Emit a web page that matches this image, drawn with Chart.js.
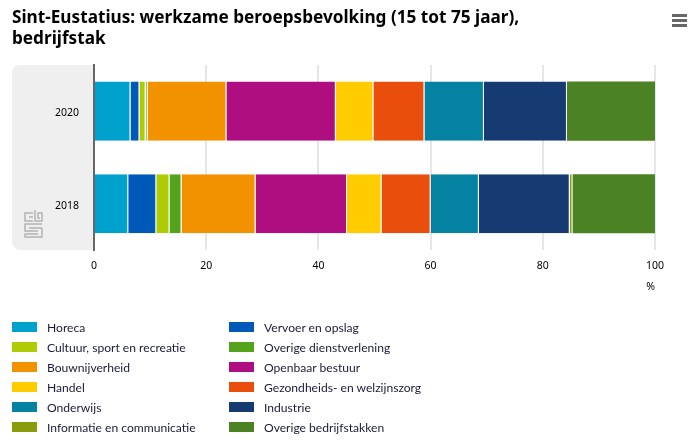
<!DOCTYPE html>
<html>
<head>
<meta charset="utf-8">
<script src="https://cdn.jsdelivr.net/npm/chart.js@4/dist/chart.umd.min.js"></script>
<style>
  html, body { margin: 0; padding: 0; background: #fff; }
  #wrap { position: relative; width: 692px; height: 445px; overflow: hidden; }
  #legend { position: absolute; left: 12px; top: 317px; display: grid;
    grid-template-columns: 217px 217px; grid-auto-rows: 20px;
    font: 12.1px Lato, sans-serif; color: #1a1a3a; }
  #legend div { display: flex; align-items: center; white-space: nowrap; }
  #legend i { display: block; width: 25px; height: 10px; margin-right: 10px; }
  #menu { position: absolute; left: 672px; top: 14px; width: 15px; }
  #menu i { display: block; height: 3px; margin-bottom: 2px; background: #666; }
</style>
</head>
<body>
<div id="wrap">
  <canvas id="chart" width="692" height="445"></canvas>
  <div id="menu"><i></i><i></i><i></i></div>
  <div id="legend"></div>
</div>
<script>
const years = ['2020', '2018'];
const sectors = ['Horeca', 'Vervoer en opslag', 'Cultuur, sport en recreatie', 'Overige dienstverlening',
  'Bouwnijverheid', 'Openbaar bestuur', 'Handel', 'Gezondheids- en welzijnszorg',
  'Onderwijs', 'Industrie', 'Informatie en communicatie', 'Overige bedrijfstakken'];
const colors = ['#00a1cd', '#0058b8', '#afcb05', '#53a31d', '#f39200', '#af0e80', '#ffcc00', '#ea4e0c',
  '#0581a2', '#163a72', '#899d0c', '#4b8224'];
const values2020 = [6.5, 1.6, 1.1, 0.35, 14.05, 19.5, 6.7, 9.1, 10.6, 14.8, 0, 15.7];
const values2018 = [6.1, 5.0, 2.35, 2.15, 13.2, 16.3, 6.15, 8.75, 8.6, 16.2, 0.5, 14.7];
const xTicks = [0, 20, 40, 60, 80, 100];

// grey panel behind the year labels and the cbs logo on it
const panelPlugin = {
  id: 'panel',
  beforeDraw(chart) {
    const { ctx, chartArea } = chart;
    ctx.save();
    ctx.fillStyle = '#efefef';
    ctx.beginPath();
    ctx.roundRect(12, chartArea.top, chartArea.left - 12, chartArea.bottom - chartArea.top, [8, 0, 0, 8]);
    ctx.fill();
    ctx.strokeStyle = '#b4b4b4';
    ctx.lineWidth = 1.5;
    ctx.beginPath();
    // c
    ctx.moveTo(33, 213); ctx.lineTo(25, 213); ctx.lineTo(25, 221); ctx.lineTo(33, 221);
    ctx.moveTo(33, 217); ctx.lineTo(29, 217);
    // b
    ctx.moveTo(35, 210); ctx.lineTo(35, 221); ctx.lineTo(42, 221); ctx.lineTo(42, 213); ctx.lineTo(38, 213); ctx.lineTo(38, 218); ctx.lineTo(40, 218);
    // s
    ctx.moveTo(42, 224); ctx.lineTo(25, 224); ctx.lineTo(25, 231); ctx.lineTo(38, 231);
    ctx.moveTo(42, 228); ctx.lineTo(29, 228);
    ctx.moveTo(42, 228); ctx.lineTo(42, 237); ctx.lineTo(25, 237); ctx.lineTo(25, 234); ctx.lineTo(38, 234);
    ctx.stroke();
    ctx.restore();
  }
};

const datasets = sectors.map((name, i) => ({
  label: name,
  data: [values2020[i], values2018[i]],
  backgroundColor: colors[i],
  borderColor: '#fff',
  borderWidth: { right: i < sectors.length - 1 ? 1 : 0, left: 0, top: 0, bottom: 0 },
  borderSkipped: false,
  barPercentage: 0.64,
  categoryPercentage: 1
}));

new Chart(document.getElementById('chart'), {
  type: 'bar',
  data: { labels: years, datasets: datasets },
  plugins: [panelPlugin],
  options: {
    indexAxis: 'y',
    responsive: false,
    animation: false,
    layout: { padding: { left: 12, right: 37, top: 0, bottom: 152 } },
    plugins: {
      legend: { display: false },
      title: {
        display: true,
        align: 'start',
        text: ['Sint-Eustatius: werkzame beroepsbevolking (15 tot 75 jaar),', 'bedrijfstak'],
        color: '#000',
        font: { family: '"Noto Sans", sans-serif', size: 17.2, weight: 'bold', lineHeight: 1.22 },
        padding: { top: 8, bottom: 15 }
      }
    },
    scales: {
      x: {
        stacked: true,
        min: 0,
        max: 100,
        afterBuildTicks(axis) { axis.ticks = xTicks.map(v => ({ value: v })); },
        afterFit(axis) { axis.height = 43; },
        grid: { color: '#e6e6e6', lineWidth: 2, drawTicks: false },
        border: { display: false },
        ticks: { color: '#000', padding: 10, maxRotation: 0, font: { family: '"Noto Sans", sans-serif', size: 10.5 } },
        title: { display: true, text: '%', align: 'end', color: '#000', padding: { top: 7, bottom: 0 },
          font: { family: '"Noto Sans", sans-serif', size: 10.5 } }
      },
      y: {
        stacked: true,
        afterFit(axis) { axis.width = 82; },
        grid: { display: false, drawTicks: false },
        border: { color: '#666', width: 2 },
        ticks: { color: '#000', padding: 15, labelOffset: 2, font: { family: '"Noto Sans", sans-serif', size: 10.5 } }
      }
    }
  }
});

// legend in two columns, filled row by row
const legend = document.getElementById('legend');
sectors.forEach((name, i) => {
  const row = document.createElement('div');
  const box = document.createElement('i');
  box.style.background = colors[i];
  row.appendChild(box);
  row.appendChild(document.createTextNode(name));
  legend.appendChild(row);
});
</script>
</body>
</html>
